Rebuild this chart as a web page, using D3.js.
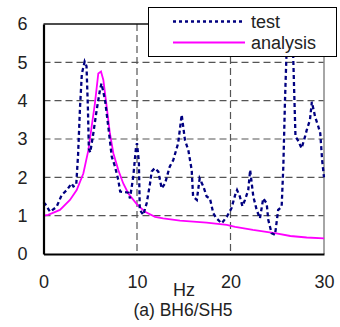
<!DOCTYPE html>
<html>
<head>
<meta charset="utf-8">
<script src="https://cdn.jsdelivr.net/npm/d3@7"></script>
<style>
  body { margin: 0; background: #fff; }
  text { font-family: "Liberation Sans", Arial, sans-serif; fill: #222; }
</style>
</head>
<body>
<svg width="340" height="327"></svg>
<script>
// test curve (frequency Hz, amplitude ratio)
const testFreq = [0, 0.2, 0.7, 1.4, 1.95, 2.5, 3.0, 3.2, 3.5, 3.7, 3.9, 4.1, 4.4, 4.6, 4.75, 4.85, 5.0,
  5.33, 5.69, 6.04, 6.2, 6.58, 6.93, 7.3, 7.65, 8.0, 8.2, 9.07, 9.25, 9.6, 9.9, 10.0, 10.2, 10.3, 10.67,
  11.04, 11.4, 11.57, 11.9, 12.28, 12.64, 13.0, 13.5, 13.88, 14.4, 14.78, 15.13, 15.49, 15.85, 16.0,
  16.4, 16.7, 17.1, 17.45, 17.8, 18.16, 18.5, 19.06, 19.6, 20.1, 20.5, 20.7, 21.0, 21.27, 21.55, 21.9,
  22.1, 22.44, 22.8, 23.15, 23.5, 23.87, 24.04, 24.4, 24.76, 25.1, 25.47, 25.65, 25.83, 26.0, 26.35,
  26.7, 26.95, 27.2, 27.6, 27.97, 28.15, 28.5, 28.7, 29.05, 29.4, 29.6, 29.8, 30];
const testAmp = [1.35, 1.3, 1.1, 1.23, 1.54, 1.67, 1.84, 1.76, 1.8, 2.6, 3.8, 4.7, 5.02, 4.9, 3.8, 2.75, 2.65,
  3.15, 3.76, 4.28, 4.45, 4.02, 3.32, 2.54, 2.28, 1.93, 1.63, 1.6, 1.45, 2.02, 2.8, 2.89, 2.4, 1.15, 1.02,
  1.33, 1.85, 2.15, 2.24, 2.15, 1.71, 1.84, 2.28, 2.45, 2.89, 3.63, 2.97, 2.71, 2.19, 1.5,
  1.41, 1.97, 1.76, 1.5, 1.45, 1.06, 0.93, 0.8, 0.97, 1.19, 1.54, 1.67, 1.5, 1.25, 1.41, 1.67,
  2.19, 1.5, 1.15, 0.93, 1.45, 1.32, 0.89, 0.54, 0.5, 1.15, 1.23, 2.28, 4.02, 5.3, 5.6,
  5.2, 3.06, 2.97, 2.76, 3.06, 3.23, 3.5, 3.97, 3.58, 3.32, 3.15, 2.45, 2.0];

// analysis curve
const anaFreq = [0, 0.5, 1.76, 2.83, 3.55, 4.26, 4.8, 5.15, 5.5, 5.86, 6.15, 6.4, 6.76, 7.1, 7.47, 8.0,
  8.53, 9.07, 9.97, 10.86, 11.93, 12.8, 14.6, 17.45, 19.6, 20.5, 22.4, 24.9, 26.4, 28.15, 30];
const anaAmp = [1.0, 1.02, 1.15, 1.41, 1.67, 2.1, 2.71, 3.32, 3.93, 4.71, 4.76, 4.54, 3.84, 3.15, 2.63, 2.19,
  1.84, 1.58, 1.3, 1.1, 0.97, 0.93, 0.87, 0.82, 0.76, 0.71, 0.63, 0.54, 0.47, 0.43, 0.41];

const xTicks = [0, 10, 20, 30];
const yTicks = [0, 1, 2, 3, 4, 5, 6];
const seriesNames = ['test', 'analysis'];

const svg = d3.select('svg');
const pLeft = 43.5, pRight = 324, pTop = 24, pBottom = 254;

const x = d3.scaleLinear().domain([0, 30]).range([pLeft, pRight]);
const y = d3.scaleLinear().domain([0, 6]).range([pBottom, pTop]);

// grid
const grid = svg.append('g').attr('stroke', '#555').attr('stroke-width', 1.2)
  .attr('stroke-dasharray', '7,4');
grid.selectAll('.hg').data(yTicks.filter(d => d > 0 && d < 6)).enter().append('line')
  .attr('x1', pLeft).attr('x2', pRight).attr('y1', d => y(d)).attr('y2', d => y(d));
grid.selectAll('.vg').data(xTicks.filter(d => d > 0 && d < 30)).enter().append('line')
  .attr('y1', pTop).attr('y2', pBottom).attr('x1', d => x(d)).attr('x2', d => x(d));

// frame
svg.append('line').attr('x1', pLeft).attr('x2', pRight).attr('y1', pTop).attr('y2', pTop)
  .attr('stroke', '#111').attr('stroke-width', 1.3);
svg.append('line').attr('x1', pRight).attr('x2', pRight).attr('y1', pTop).attr('y2', pBottom)
  .attr('stroke', '#888').attr('stroke-width', 1.5);

// curves
const line = d3.line().x(d => x(d[0])).y(d => y(d[1]));
svg.append('path')
  .datum(d3.zip(anaFreq, anaAmp))
  .attr('d', line).attr('fill', 'none')
  .attr('stroke', '#ff00ff').attr('stroke-width', 1.8);
svg.append('path')
  .datum(d3.zip(testFreq, testAmp))
  .attr('d', line).attr('fill', 'none')
  .attr('stroke', '#000080').attr('stroke-width', 2.3)
  .attr('stroke-dasharray', '4,3');

// axes
svg.append('g').attr('transform', `translate(0,${pBottom})`)
  .call(d3.axisBottom(x).tickValues(xTicks).tickFormat(d3.format('d')).tickSize(0).tickPadding(21))
  .call(g => g.select('.domain').attr('stroke', '#000').attr('stroke-width', 2.2))
  .call(g => g.selectAll('text').style('font-size', '18px').attr('fill', '#222'));
svg.append('g').attr('transform', `translate(${pLeft},0)`)
  .call(d3.axisLeft(y).tickValues(yTicks).tickFormat(d3.format('d')).tickSize(0).tickPadding(16))
  .call(g => g.select('.domain').attr('stroke', '#000').attr('stroke-width', 2.2))
  .call(g => g.selectAll('text').style('font-size', '18px').attr('fill', '#222'));

svg.append('text').attr('x', 184).attr('y', 296).attr('text-anchor', 'middle')
  .style('font-size', '18px').text('Hz');
svg.append('text').attr('x', 183).attr('y', 316).attr('text-anchor', 'middle')
  .style('font-size', '17.5px').text('(a) BH6/SH5');

// legend
const lg = svg.append('g');
lg.append('rect').attr('x', 148.5).attr('y', 7.5).attr('width', 188).attr('height', 49)
  .attr('fill', '#fff').attr('stroke', '#000').attr('stroke-width', 1);
const legStyles = [
  { stroke: '#000080', w: 2.3, dash: '3,3' },
  { stroke: '#ff00ff', w: 1.8, dash: null }
];
seriesNames.forEach((name, i) => {
  const ly = 21.5 + i * 21;
  lg.append('line').attr('x1', 173).attr('x2', 245).attr('y1', ly).attr('y2', ly)
    .attr('stroke', legStyles[i].stroke).attr('stroke-width', legStyles[i].w)
    .attr('stroke-dasharray', legStyles[i].dash);
  lg.append('text').attr('x', 251).attr('y', ly + 6).style('font-size', '18px').text(name);
});
</script>
</body>
</html>
